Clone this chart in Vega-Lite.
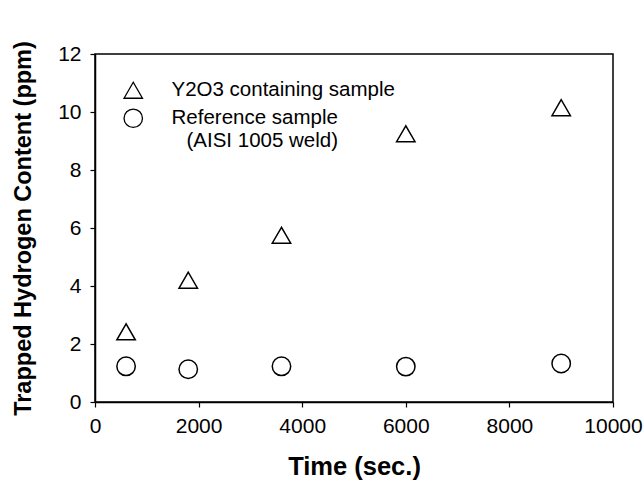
{
  "$schema": "https://vega.github.io/schema/vega-lite/v6.json",
  "width": 518,
  "height": 348,
  "autosize": {"type": "none"},
  "padding": {"left": 95, "top": 54, "right": 31, "bottom": 83},
  "background": "white",
  "config": {
    "font": "Liberation Sans",
    "view": {"stroke": "black", "strokeWidth": 1.5},
    "axis": {"grid": false, "domainColor": "black", "tickColor": "black", "domainWidth": 1.5, "tickWidth": 1.2, "tickSize": 5, "labelColor": "black", "titleColor": "black", "labelFont": "Liberation Sans", "titleFont": "Liberation Sans", "labelFontSize": 21, "titleFontSize": 23.5, "titleFontWeight": "bold", "labelFontWeight": "normal", "format": "d"}
  },
  "data": {
    "values": [
      {"time": 600, "h": 2.42, "sample": "Y2O3 containing sample"},
      {"time": 1800, "h": 4.2, "sample": "Y2O3 containing sample"},
      {"time": 3600, "h": 5.75, "sample": "Y2O3 containing sample"},
      {"time": 6000, "h": 9.25, "sample": "Y2O3 containing sample"},
      {"time": 9000, "h": 10.15, "sample": "Y2O3 containing sample"},
      {"time": 600, "h": 1.23, "sample": "Reference sample"},
      {"time": 1800, "h": 1.13, "sample": "Reference sample"},
      {"time": 3600, "h": 1.23, "sample": "Reference sample"},
      {"time": 6000, "h": 1.22, "sample": "Reference sample"},
      {"time": 9000, "h": 1.33, "sample": "Reference sample"}
    ]
  },
  "mark": {"type": "point", "filled": false, "strokeWidth": 1.5, "color": "black", "opacity": 1},
  "encoding": {
    "x": {"field": "time", "type": "quantitative", "scale": {"domain": [0, 10000], "nice": false}, "axis": {"values": [0, 2000, 4000, 6000, 8000, 10000], "title": "Time (sec.)", "titleFontSize": 25.5, "titlePadding": 18, "labelPadding": 8, "labelFlush": false}},
    "y": {"field": "h", "type": "quantitative", "scale": {"domain": [0, 12], "nice": false}, "axis": {"values": [0, 2, 4, 6, 8, 10, 12], "title": "Trapped Hydrogen Content (ppm)", "titlePadding": 22, "labelPadding": 9}},
    "shape": {"field": "sample", "type": "nominal", "sort": ["Y2O3 containing sample", "Reference sample"], "scale": {"domain": ["Y2O3 containing sample", "Reference sample"], "range": ["triangle-up", "circle"]},
      "legend": {"title": null, "orient": "none", "legendX": 28, "legendY": 26, "labelFontSize": 20.5, "labelFont": "Liberation Sans", "labelColor": "black", "symbolSize": 340, "symbolStrokeColor": "black", "symbolStrokeWidth": 1.3, "symbolFillColor": "transparent", "labelOffset": 28, "rowPadding": 5, "labelLimit": 400,
        "labelExpr": "datum.label == 'Reference sample' ? ['Reference sample', '\u2800(AISI 1005 weld)'] : datum.label"}},
    "size": {"value": 340}
  }
}
